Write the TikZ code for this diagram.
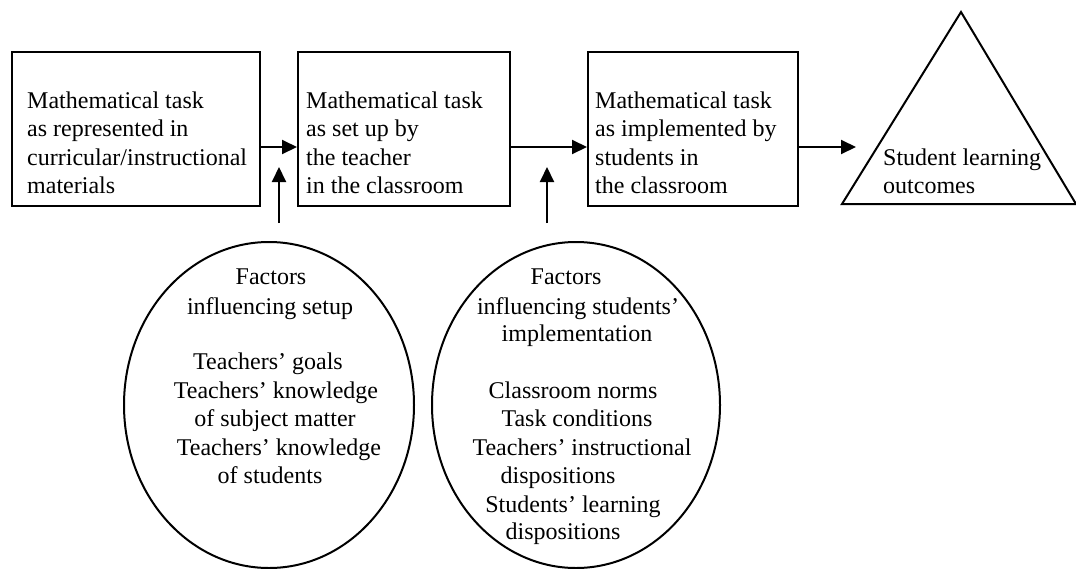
\documentclass[tikz,border=0pt]{standalone}
\usepackage{fontspec}
\setmainfont{Liberation Serif}
\usetikzlibrary{arrows.meta,shapes.geometric}
\begin{document}
\begin{tikzpicture}[x=1pt,y=-1pt,
  box/.style={draw, rectangle, inner sep=0pt, line width=2.4pt, anchor=north west},
  oval/.style={draw, ellipse, inner sep=0pt, line width=2pt},
  arr/.style={-{Triangle[length=15pt,width=14pt]}, line width=2pt},
  txt/.style={font=\fontsize{24}{28.4}\selectfont, inner sep=0pt},
  ]
\useasboundingbox (0,0) rectangle (1076,568);
% boxes
\node[box, minimum width=248pt, minimum height=154pt] (b1) at (11,51) {};
\node[box, minimum width=212pt, minimum height=154pt] (b2) at (297,51) {};
\node[box, minimum width=210pt, minimum height=154pt] (b3) at (587,51) {};
\node[txt, anchor=north west, align=left] (t1) at (27,91.6)
  {Mathematical task\\as represented in\\curricular/instructional\\materials};
\node[txt, anchor=north west, align=left] (t2) at (306,91.6)
  {Mathematical task\\as set up by\\the teacher\\in the classroom};
\node[txt, anchor=north west, align=left] (t3) at (595,91.6)
  {Mathematical task\\as implemented by\\students in\\the classroom};
% triangle
\coordinate (tl) at (842,204);
\coordinate (ta) at (961,12);
\coordinate (tr) at (1076,204);
\draw[line width=2pt, line join=miter] (tl) -- (ta) -- (tr) -- cycle;
\node[txt, anchor=north west, align=left] (t4) at (883,148.6)
  {Student learning\\outcomes};
% horizontal arrows
\coordinate (h) at (0,147);
\coordinate (e3) at (856,147);
\draw[arr] (b1.east |- h) -- (b2.west |- h);
\draw[arr] (b2.east |- h) -- (b3.west |- h);
\draw[arr] (b3.east |- h) -- (e3);
% ellipses
\node[oval, minimum width=290pt, minimum height=326pt] (e1) at (269,405) {};
\node[oval, minimum width=288pt, minimum height=326pt] (e2) at (576,405) {};
% vertical arrows
\coordinate (v1s) at (279,223);
\coordinate (v1e) at (279,167);
\coordinate (v2s) at (547,223);
\coordinate (v2e) at (547,167);
\draw[arr] (v1s) -- (v1e);
\draw[arr] (v2s) -- (v2e);
% left ellipse text
\node[txt, anchor=base] (f1) at (271,284) {Factors};
\node[txt, anchor=base] (f2) at (270,314) {influencing setup};
\node[txt, anchor=base] (f3) at (268,369) {Teachers' goals};
\node[txt, anchor=base] (f4) at (276,398) {Teachers' knowledge};
\node[txt, anchor=base] (f5) at (275,426) {of subject matter};
\node[txt, anchor=base] (f6) at (279,455) {Teachers' knowledge};
\node[txt, anchor=base] (f7) at (270,483) {of students};
% right ellipse text
\node[txt, anchor=base] (g1) at (566,284) {Factors};
\node[txt, anchor=base] (g2) at (578,314) {influencing students'};
\node[txt, anchor=base] (g3) at (577,341) {implementation};
\node[txt, anchor=base] (g4) at (573,398) {Classroom norms};
\node[txt, anchor=base] (g5) at (577,426) {Task conditions};
\node[txt, anchor=base] (g6) at (582,455) {Teachers' instructional};
\node[txt, anchor=base] (g7) at (558,483) {dispositions};
\node[txt, anchor=base] (g8) at (573,512) {Students' learning};
\node[txt, anchor=base] (g9) at (563,539) {dispositions};
\end{tikzpicture}
\end{document}
